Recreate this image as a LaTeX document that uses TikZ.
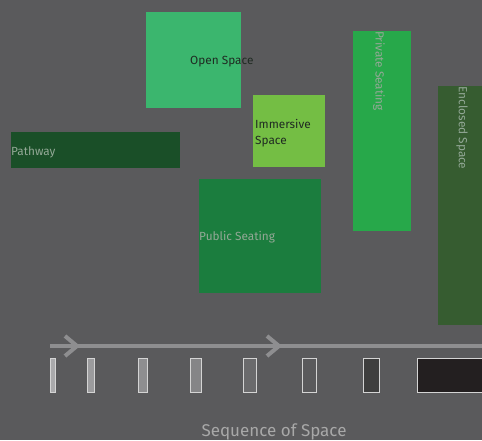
\documentclass[tikz,border=0pt]{standalone}
\usepackage{fontspec}
\setmainfont{Fira Sans}
\definecolor{bg}{HTML}{5A5A5C}
\definecolor{openc}{HTML}{3BB66E}
\definecolor{immc}{HTML}{74BE44}
\definecolor{pathc}{HTML}{1A4F28}
\definecolor{pubc}{HTML}{1B7D3E}
\definecolor{privc}{HTML}{27A84A}
\definecolor{encc}{HTML}{365C30}
\definecolor{linec}{HTML}{8E8E90}
\definecolor{edgec}{HTML}{D4D4D4}
\definecolor{darktxt}{HTML}{1F2A22}
\definecolor{lighttxt}{HTML}{93A896}
\definecolor{seqtxt}{HTML}{A8A8A8}
\tikzset{
  zone/.style={draw=none, inner sep=0pt, outer sep=0pt, anchor=north west},
  lbl/.style={inner sep=0pt, font=\fontsize{11.8}{16}\selectfont, anchor=west},
  vlbl/.style={inner sep=0pt, font=\fontsize{11.8}{16}\selectfont, rotate=-90},
  stepbar/.style={draw=edgec, line width=1.4pt, inner sep=0pt, anchor=north west, minimum height=34pt},
  flow/.style={draw=linec, line width=4pt},
}
\begin{document}
\begin{tikzpicture}[x=1pt,y=-1pt]
\useasboundingbox[fill=bg] (0,0) rectangle (482,440);
% zones
\node[zone, fill=openc, minimum width=95pt, minimum height=96pt] (open) at (146,12) {};
\node[zone, fill=immc, minimum width=72pt, minimum height=72pt] (imm) at (253,95) {};
\node[zone, fill=pathc, minimum width=169pt, minimum height=36pt] (path) at (11,132) {};
\node[zone, fill=pubc, minimum width=122pt, minimum height=114pt] (pub) at (199,179) {};
\node[zone, fill=privc, minimum width=58pt, minimum height=200pt] (priv) at (353,31) {};
\node[zone, fill=encc, minimum width=44pt, minimum height=239pt] (enc) at (438,86) {};
% labels
\node[lbl, text=darktxt] (openl) at (190,62) {Open Space};
\node[lbl, text=darktxt, align=left] (imml) at (255,133) {Immersive\\Space};
\node[lbl, text=lighttxt] (pathl) at (11,152) {Pathway};
\node[lbl, text=lighttxt] (publ) at (199,237) {Public Seating};
\node[vlbl, text=lighttxt] (privl) at (379,71) {Private Seating};
\node[vlbl, text=lighttxt] (encl) at (462,128) {Enclosed Space};
% flow line
\coordinate (fs) at (50,346);
\coordinate (fe) at (482,346);
\draw[flow] (fs) -- (fe);
\coordinate (c1) at (77,346);
\coordinate (c2) at (279,346);
\draw[flow, miter limit=10] ([shift={(-12,-10)}]c1) -- (c1) -- ([shift={(-12,10)}]c1);
\draw[flow, miter limit=10] ([shift={(-12,-10)}]c2) -- (c2) -- ([shift={(-12,10)}]c2);
% sequence bars
\node[stepbar, fill={rgb,255:red,170;green,170;blue,172}, minimum width=5pt] (b1) at (50,358) {};
\node[stepbar, fill={rgb,255:red,155;green,155;blue,157}, minimum width=7pt] (b2) at (87,358) {};
\node[stepbar, fill=linec, minimum width=9pt] (b3) at (138,358) {};
\node[stepbar, fill={rgb,255:red,133;green,133;blue,135}, minimum width=11pt] (b4) at (190,358) {};
\node[stepbar, fill={rgb,255:red,106;green,106;blue,108}, minimum width=13pt] (b5) at (243,358) {};
\node[stepbar, fill=bg, minimum width=14pt] (b6) at (302,358) {};
\node[stepbar, fill={rgb,255:red,62;green,62;blue,62}, minimum width=16pt] (b7) at (363,358) {};
\node[stepbar, fill={rgb,255:red,35;green,31;blue,32}, minimum width=70pt] (b8) at (417,358) {};
\node[text=seqtxt, font=\fontsize{17}{19}\selectfont, inner sep=0pt] (seq) at (274,432) {Sequence of Space};
\end{tikzpicture}
\end{document}
